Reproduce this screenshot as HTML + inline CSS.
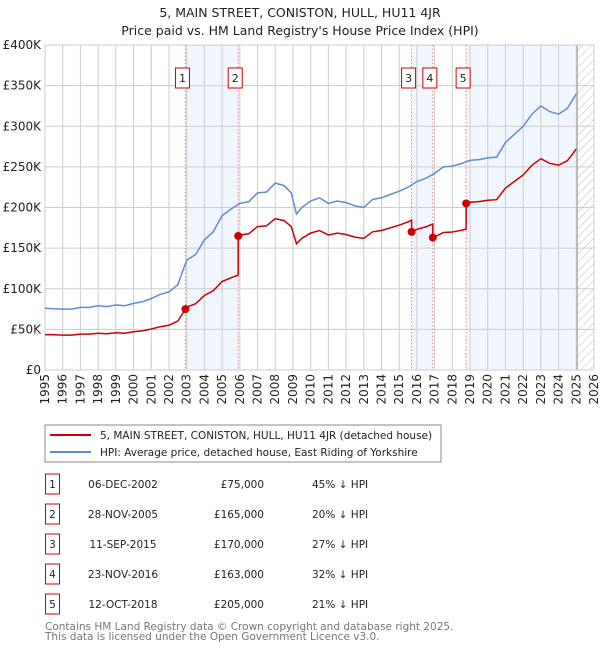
<!DOCTYPE html>
<html><head><meta charset="utf-8">
<style>
body{margin:0;background:#fff;font-family:"Liberation Sans","DejaVu Sans",sans-serif;}
svg{display:block}
</style></head>
<body>
<svg id="chart" width="600" height="650" xmlns="http://www.w3.org/2000/svg" font-family="DejaVu Sans, Liberation Sans, sans-serif">
<defs>
<pattern id="hatch" width="6" height="6" patternUnits="userSpaceOnUse" patternTransform="rotate(45)">
<line x1="0" y1="0" x2="0" y2="6" stroke="#bbb" stroke-width="1"/>
</pattern>
</defs>
<text x="300" y="17" text-anchor="middle" font-size="12.5" fill="#222">5, MAIN STREET, CONISTON, HULL, HU11 4JR</text>
<text x="300" y="35" text-anchor="middle" font-size="12.5" fill="#222">Price paid vs. HM Land Registry's House Price Index (HPI)</text>
<g id="plot"></g>
<rect x="45" y="425" width="396" height="37" fill="#fff" stroke="#888"/>
<line x1="50" y1="435" x2="91" y2="435" stroke="#cc0000" stroke-width="2"/>
<text x="100" y="439" font-size="10.5" fill="#222">5, MAIN STREET, CONISTON, HULL, HU11 4JR (detached house)</text>
<line x1="50" y1="452" x2="91" y2="452" stroke="#5b8dd0" stroke-width="2"/>
<text x="100" y="456" font-size="10.5" fill="#222">HPI: Average price, detached house, East Riding of Yorkshire</text>
<g id="table"></g>
<text x="45" y="630" font-size="10.5" fill="#777">Contains HM Land Registry data © Crown copyright and database right 2025.</text>
<text x="45" y="640" font-size="10.5" fill="#777">This data is licensed under the Open Government Licence v3.0.</text>
</svg>
<script>
const hpiYears=[1995,1995.5,1996,1996.5,1997,1997.5,1998,1998.5,1999,1999.5,2000,2000.5,2001,2001.5,2002,2002.5,2003,2003.5,2004,2004.5,2005,2005.5,2006,2006.5,2007,2007.5,2008,2008.5,2008.9,2009.2,2009.5,2010,2010.5,2011,2011.5,2012,2012.5,2013,2013.5,2014,2014.5,2015,2015.5,2016,2016.5,2017,2017.5,2018,2018.5,2019,2019.5,2020,2020.5,2021,2021.5,2022,2022.5,2023,2023.5,2024,2024.5,2025];
const hpiValues=[76,75.5,75,75,77,77,79,78,80,79,82,84,88,93,96,105,135,142,160,170,190,198,205,207,218,219,230,227,218,192,200,208,212,205,208,206,202,200,210,212,216,220,225,232,236,242,250,251,254,258,259,261,262,280,290,300,315,325,318,315,322,340];
const saleDates=[2002.93,2005.91,2015.70,2016.90,2018.78];
const salePrices=[75,165,170,163,205];
const saleLabels=["1","2","3","4","5"];
const saleDateText=["06-DEC-2002","28-NOV-2005","11-SEP-2015","23-NOV-2016","12-OCT-2018"];
const salePriceText=["£75,000","£165,000","£170,000","£163,000","£205,000"];
const saleHpiText=["45% ↓ HPI","20% ↓ HPI","27% ↓ HPI","32% ↓ HPI","21% ↓ HPI"];
const yTicks=[0,50,100,150,200,250,300,350,400];
const yTickLabels=["£0","£50K","£100K","£150K","£200K","£250K","£300K","£350K","£400K"];
const xTicks=[1995,1996,1997,1998,1999,2000,2001,2002,2003,2004,2005,2006,2007,2008,2009,2010,2011,2012,2013,2014,2015,2016,2017,2018,2019,2020,2021,2022,2023,2024,2025,2026];

const X0=45,X1=594,Y0=370,Y1=45;
const xs=t=>X0+(t-1995)/(2026-1995)*(X1-X0);
const ys=v=>Y0-v/400*(Y0-Y1);
const NS="http://www.w3.org/2000/svg";
const plot=document.getElementById('plot');
function mk(tag,attrs,parent){const e=document.createElementNS(NS,tag);for(const k in attrs)e.setAttribute(k,attrs[k]);(parent||plot).appendChild(e);return e;}
function hpiAt(t){if(t<=hpiYears[0])return hpiValues[0];for(let i=1;i<hpiYears.length;i++){if(t<=hpiYears[i]){const f=(t-hpiYears[i-1])/(hpiYears[i]-hpiYears[i-1]);return hpiValues[i-1]+f*(hpiValues[i]-hpiValues[i-1]);}}return hpiValues[hpiValues.length-1];}

let bg=mk('rect',{x:X0,y:Y1,width:X1-X0,height:Y0-Y1,fill:'#fff'});


const spans=[[saleDates[0],saleDates[1]],[saleDates[2],saleDates[3]],[saleDates[4],hpiYears[hpiYears.length-1]]];
spans.forEach((s,i)=>{const r=mk('rect',{x:xs(s[0]),y:Y1,width:xs(s[1])-xs(s[0]),height:Y0-Y1,fill:'#f1f5fd'});

});
const endT=hpiYears[hpiYears.length-1]+0.05;
let h=mk('rect',{x:xs(endT),y:Y1,width:X1-xs(endT),height:Y0-Y1,fill:'url(#hatch)'});


yTicks.forEach((v,i)=>{let l=mk('line',{x1:X0,x2:X1,y1:ys(v),y2:ys(v),stroke:'#cccccc','stroke-width':1});


let t=mk('text',{x:X0-4,y:ys(v)+4,'text-anchor':'end','font-size':12,fill:'#222'});t.textContent=yTickLabels[i];

});
xTicks.forEach(yr=>{let l=mk('line',{x1:xs(yr),x2:xs(yr),y1:Y1,y2:Y0,stroke:'#cccccc','stroke-width':1});


let t=mk('text',{x:0,y:0,'text-anchor':'end','font-size':12,fill:'#222',transform:`translate(${xs(yr)+4},374) rotate(-90)`});t.textContent=yr;

});
let ev=mk('line',{x1:xs(endT),x2:xs(endT),y1:Y1,y2:Y0,stroke:'#999','stroke-width':1});


let fr=mk('rect',{x:X0,y:Y1,width:X1-X0,height:Y0-Y1,fill:'none',stroke:'#cccccc'});


saleDates.forEach((d,i)=>{let l=mk('line',{x1:xs(d),x2:xs(d),y1:Y1,y2:Y0,stroke:'#f08080','stroke-width':1,'stroke-dasharray':'1.5,2'});

});
let dH=hpiYears.map((t,i)=>(i?'L':'M')+xs(t).toFixed(1)+','+ys(hpiValues[i]).toFixed(1)).join('');
let hp=mk('path',{d:dH,fill:'none',stroke:'#5b8dd0','stroke-width':1.5});


function ratioAt(t){let k=0;for(let i=0;i<saleDates.length;i++)if(t>=saleDates[i])k=i;return salePrices[k]/hpiAt(saleDates[k]);}
let pts=[];
const ts=[...hpiYears];saleDates.forEach(d=>{ts.push(d-0.001);ts.push(d);});ts.sort((a,b)=>a-b);
ts.forEach(t=>pts.push([t,hpiAt(t)*ratioAt(t)]));
let dP=pts.map((p,i)=>(i?'L':'M')+xs(p[0]).toFixed(1)+','+ys(p[1]).toFixed(1)).join('');
let pp=mk('path',{d:dP,fill:'none',stroke:'#cc0000','stroke-width':1.5});


saleDates.forEach((d,i)=>{let c=mk('circle',{cx:xs(d),cy:ys(salePrices[i]),r:4,fill:'#cc0000'});


let b=mk('rect',{x:xs(d)-10,y:68,width:14,height:20,fill:'#fff',stroke:'#cc0000'});


let t=mk('text',{x:xs(d)-3,y:82,'text-anchor':'middle','font-size':11,fill:'#222'});t.textContent=saleLabels[i];

});
const tbl=document.getElementById('table');
saleLabels.forEach((s,i)=>{const y=483+i*30;
let b=mk('rect',{x:45.5,y:y-9,width:14,height:20,fill:'#fff',stroke:'#cc0000'},tbl);


let t=mk('text',{x:52.5,y:y+5,'text-anchor':'middle','font-size':10.5,fill:'#222'},tbl);t.textContent=s;


let a=mk('text',{x:123,y:y+5,'text-anchor':'middle','font-size':10.5,fill:'#222'},tbl);a.textContent=saleDateText[i];


let p=mk('text',{x:264,y:y+5,'text-anchor':'end','font-size':10.5,fill:'#222'},tbl);p.textContent=salePriceText[i];


let q=mk('text',{x:312,y:y+5,'font-size':10.5,fill:'#222'},tbl);q.textContent=saleHpiText[i];

});
</script>
</body></html>
